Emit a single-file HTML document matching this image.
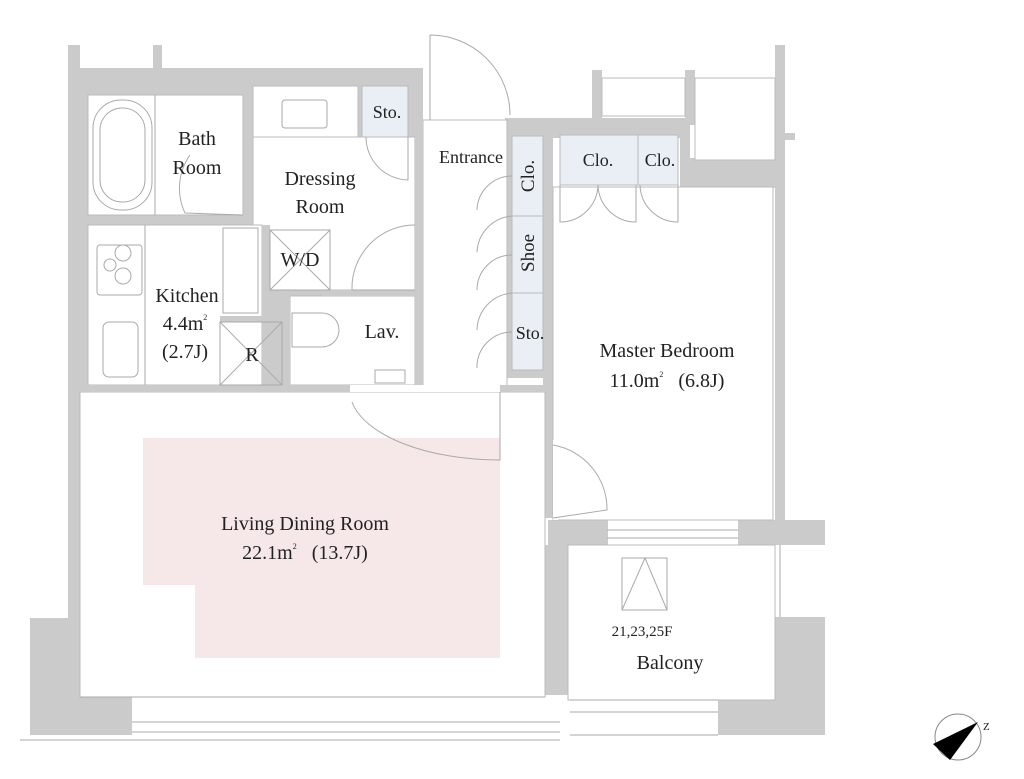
<!DOCTYPE html>
<html><head><meta charset="utf-8"><style>
html,body{margin:0;padding:0;background:#fff;}
svg{display:block}
text{font-family:"Liberation Serif",serif;fill:#222;}
</style></head><body>
<svg width="1024" height="779" viewBox="0 0 1024 779" xmlns="http://www.w3.org/2000/svg">
<g fill="#cbcbcb">
  <rect x="68" y="45" width="12" height="30"/>
  <rect x="153" y="45" width="9" height="30"/>
  <rect x="68" y="68" width="355" height="324"/>
  <rect x="68" y="68" width="12" height="552"/>
  <rect x="415" y="68" width="8" height="52"/>
  <rect x="508" y="118" width="44" height="18"/>
  <rect x="543" y="118" width="145" height="20"/>
  <rect x="505" y="118" width="47" height="260"/>
  <rect x="543" y="118" width="10" height="400"/>
  <rect x="543" y="545" width="25" height="150"/>
  <rect x="680" y="118" width="10" height="70"/>
  <rect x="680" y="158" width="105" height="30"/>
  <rect x="592" y="70" width="10" height="55"/>
  <rect x="685" y="70" width="10" height="55"/>
  <rect x="775" y="45" width="10" height="475"/>
  <rect x="785" y="133" width="10" height="7"/>
  <rect x="548" y="520" width="60" height="25"/>
  <rect x="738" y="520" width="87" height="25"/>
  <rect x="30" y="618" width="102" height="117"/>
  <rect x="718" y="617" width="107" height="118"/>
</g>
<g fill="#fff" stroke="#bbb" stroke-width="1">
  <rect x="88" y="95" width="155" height="120"/>
  <rect x="253" y="86" width="105" height="51"/>
  <rect x="253" y="137" width="162" height="153"/>
  <rect x="88" y="225" width="174" height="160"/>
  <rect x="290" y="296" width="125" height="89"/>
  <rect x="423" y="120" width="84" height="270"/>
  <rect x="80" y="392" width="465" height="305"/>
  <rect x="553" y="187" width="220" height="333"/>
  <rect x="568" y="545" width="207" height="155"/>
  <rect x="602" y="78" width="83" height="38"/>
  <rect x="695" y="78" width="80" height="82"/>
</g>
<rect x="322" y="290" width="93" height="6" fill="#cbcbcb"/>
<rect x="262" y="225" width="8" height="160" fill="#cbcbcb"/>
<rect x="282" y="290" width="8" height="95" fill="#cbcbcb"/>
<rect x="220" y="316" width="62" height="6" fill="#cbcbcb"/>
<rect x="415" y="120" width="8" height="270" fill="#cbcbcb"/>
<rect x="80" y="385" width="465" height="7" fill="#cbcbcb"/>
<rect x="350" y="385" width="150" height="7" fill="#fff"/>
<rect x="553" y="440" width="5" height="80" fill="#fff"/>
<g fill="#e9eff4" stroke="#bbb" stroke-width="1">
  <rect x="362" y="86" width="46" height="51"/>
  <rect x="512" y="136" width="31" height="80"/>
  <rect x="512" y="216" width="31" height="77"/>
  <rect x="512" y="293" width="31" height="77"/>
  <rect x="560" y="135" width="78" height="50"/>
  <rect x="638" y="135" width="40" height="50"/>
</g>
<polygon points="143,438 500,438 500,658 195,658 195,585 143,585" fill="#f6e8e8"/>
<g fill="none" stroke="#aaa" stroke-width="1">
  <line x1="155" y1="95" x2="155" y2="215"/>
  <rect x="93" y="100" width="59" height="110" rx="28"/>
  <rect x="100" y="108" width="45" height="94" rx="22"/>
  <rect x="282" y="100" width="45" height="28" rx="3"/>
  <rect x="270" y="230" width="60" height="60"/>
  <line x1="270" y1="230" x2="330" y2="290"/><line x1="330" y1="230" x2="270" y2="290"/>
  <rect x="220" y="322" width="62" height="63"/>
  <line x1="220" y1="322" x2="282" y2="385"/><line x1="282" y1="322" x2="220" y2="385"/>
  <rect x="97" y="245" width="45" height="50" rx="3"/>
  <circle cx="123" cy="253" r="8"/><circle cx="110" cy="265" r="6"/><circle cx="123" cy="276" r="8"/>
  <rect x="103" y="322" width="35" height="55" rx="6"/>
  <line x1="145" y1="225" x2="145" y2="385"/>
  <rect x="223" y="228" width="35" height="85"/>
  <path d="M292 313 h30 a17 17 0 0 1 0 34 h-30 z"/>
  <rect x="375" y="370" width="30" height="13"/>
  <path d="M243 215 L185 213 A58 58 0 0 1 190 155"/>
  <path d="M408 137 L408 180 A43 43 0 0 1 366 137"/>
  <path d="M415 290 L352 290 A63 63 0 0 1 415 225"/>
  <path d="M430 35 A80 80 0 0 1 510 115 M430 35 L430 120"/>
  <path d="M352 402 A150 70 0 0 0 500 460 L500 392"/>
  <path d="M512 176 A35 35 0 0 0 477 210 M512 216 A38 38 0 0 0 477 252"/>
  <path d="M512 255 A35 35 0 0 0 477 290 M512 293 A38 38 0 0 0 477 330"/>
  <path d="M512 332 A35 35 0 0 0 477 368"/>
  <path d="M560 185 v37 a38 38 0 0 0 38 -37 a38 38 0 0 0 38 37 v-37"/>
  <path d="M640 185 a38 38 0 0 0 38 37 v-37"/>
  <path d="M553 445 A65 65 0 0 1 607 510 L553 518"/>
  <rect x="622" y="558" width="45" height="52"/>
  <path d="M622 610 L645 558 L667 610"/>
  <line x1="607" y1="530" x2="738" y2="530"/><line x1="607" y1="538" x2="738" y2="538"/>
  <line x1="80" y1="697" x2="545" y2="697"/>
  <line x1="132" y1="722" x2="560" y2="722"/><line x1="132" y1="732" x2="560" y2="732"/>
  <line x1="570" y1="700" x2="718" y2="700"/><line x1="570" y1="712" x2="718" y2="712"/>
  <line x1="570" y1="735" x2="718" y2="735"/>
  <line x1="780" y1="545" x2="780" y2="617"/>
  <line x1="20" y1="740" x2="560" y2="740"/>
  <circle cx="958" cy="737" r="23" stroke="#888"/>
</g>
<polygon points="933,744 978,722 950,760" fill="#000"/>
<text x="983" y="730" font-size="11">Z</text>
<g text-anchor="middle" font-size="20">
  <text x="197" y="145">Bath</text><text x="197" y="174">Room</text>
  <text x="387" y="118" font-size="18">Sto.</text>
  <text x="471" y="163" font-size="18">Entrance</text>
  <text x="320" y="185">Dressing</text><text x="320" y="213">Room</text>
  <text x="300" y="266">W/D</text>
  <text x="187" y="302">Kitchen</text>
  <text x="185" y="330">4.4m<tspan font-size="8" dy="-10">2</tspan></text>
  <text x="185" y="358">(2.7J)</text>
  <text x="252" y="361">R</text>
  <text x="382" y="338">Lav.</text>
  <text transform="translate(534,176) rotate(-90)" font-size="19">Clo.</text>
  <text transform="translate(534,253) rotate(-90)" font-size="19">Shoe</text>
  <text x="530" y="339" font-size="18">Sto.</text>
  <text x="598" y="166" font-size="18">Clo.</text>
  <text x="660" y="166" font-size="18">Clo.</text>
  <text x="667" y="357">Master Bedroom</text>
  <text x="667" y="387" xml:space="preserve">11.0m<tspan font-size="8" dy="-10">2</tspan><tspan dy="10">   (6.8J)</tspan></text>
  <text x="305" y="530">Living Dining Room</text>
  <text x="305" y="559" xml:space="preserve">22.1m<tspan font-size="8" dy="-10">2</tspan><tspan dy="10">   (13.7J)</tspan></text>
  <text x="642" y="636" font-size="15">21,23,25F</text>
  <text x="670" y="669">Balcony</text>
</g>
</svg>
</body></html>
